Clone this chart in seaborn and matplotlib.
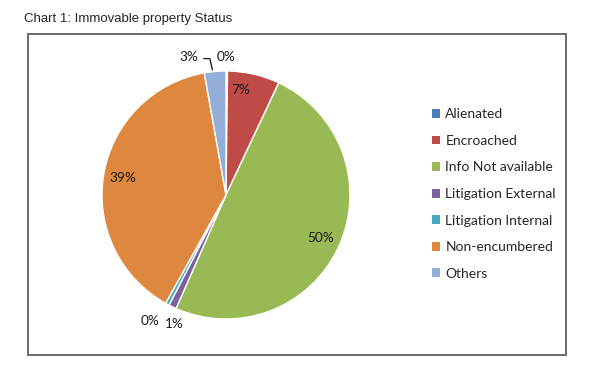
import matplotlib.pyplot as plt
import seaborn as sns
from matplotlib.patches import Rectangle, Patch

# dados do gráfico
categorias = ['Alienated', 'Encroached', 'Info Not available', 'Litigation External',
              'Litigation Internal', 'Non-encumbered', 'Others']
valores = [0.2, 6.8, 49.6, 1.0, 0.5, 39.1, 2.8]
cores = ['#4A7EBB', '#BE4B48', '#98B954', '#7D60A0', '#46AAC5', '#DE873F', '#93AFD9']

sns.set_style("white")
plt.rcParams['font.family'] = ['Lato', 'DejaVu Sans']

fig = plt.figure(figsize=(5.92, 3.70), dpi=100)
W, H = 592, 370

# moldura do gráfico
fig.add_artist(Rectangle((28 / W, 1 - 355 / H), (566 - 28) / W, (355 - 34) / H,
                         transform=fig.transFigure, fill=False,
                         edgecolor='#6a6a6a', linewidth=1.4))

fig.text(24 / W, 1 - 19 / H, 'Chart 1: Immovable property Status',
         family='Liberation Sans', fontsize=9.5, va='center', ha='left')

# eixo da pizza
cx, cy, r = 226, 195, 124
ax = fig.add_axes([(cx - r) / W, (H - cy - r) / H, 2 * r / W, 2 * r / H])
wedges, textos, autotextos = ax.pie(
    valores, colors=cores, startangle=90, counterclock=False,
    autopct='%.0f%%', pctdistance=0.84,
    wedgeprops=dict(edgecolor='white', linewidth=1.0),
    textprops=dict(fontsize=9.8, color='#1a1a1a'))
ax.set_xlim(-1, 1)
ax.set_ylim(-1, 1)
ax.set_aspect('equal')
ax.axis('off')

# rótulos fora da pizza para as fatias pequenas
posicoes_fora = {0: (0.0, 1.11), 3: (-0.42, -1.04), 4: (-0.61, -1.02), 6: (-0.30, 1.11)}
for i, (x, y) in posicoes_fora.items():
    autotextos[i].set_position((x, y))
    autotextos[i].set_clip_on(False)
autotextos[1].set_position((0.12, 0.85))

# linha guia do rótulo "3%"
ax.plot([-0.18, -0.13, -0.11], [1.10, 1.10, 1.01], color='#222222', lw=1.0, clip_on=False)

# legenda
handles = [Patch(facecolor=c, edgecolor='none') for c in cores]
fig.legend(handles, categorias, loc='center left',
           bbox_to_anchor=(419 / W, 1 - 194 / H), frameon=False,
           fontsize=10, handlelength=0.6, handleheight=0.6, handletextpad=0.4,
           labelspacing=1.05)

fig.savefig('out.png', dpi=100)
